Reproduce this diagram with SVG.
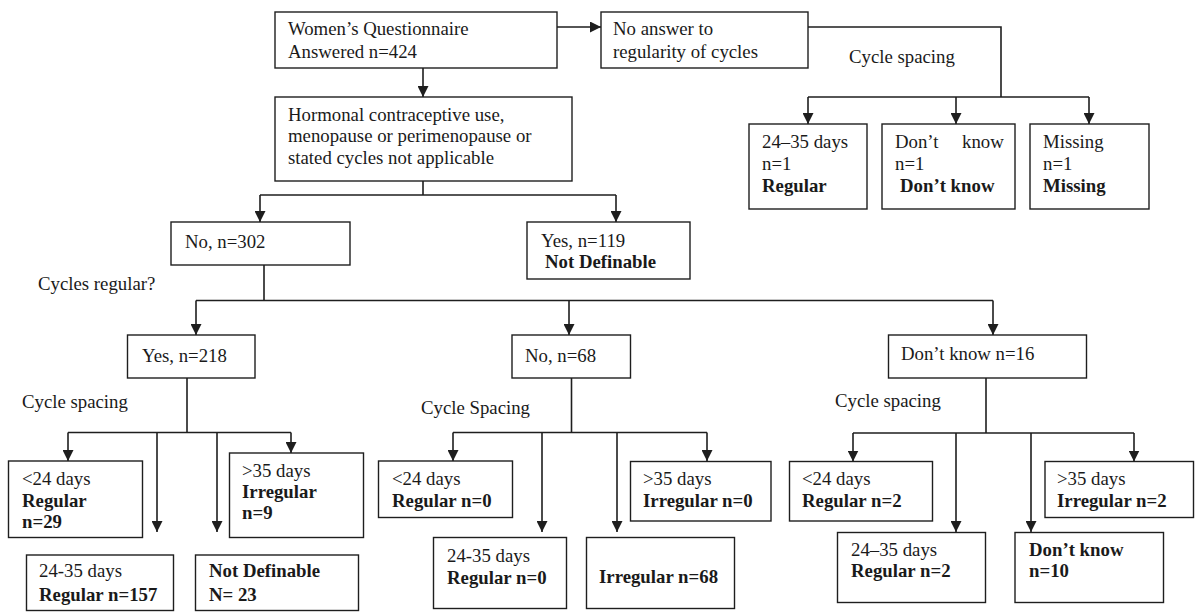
<svg xmlns="http://www.w3.org/2000/svg" width="1198" height="615" viewBox="0 0 1198 615">
<style>
  .box { fill: #ffffff; stroke: #1e1e1e; stroke-width: 1.4; }
  .ln { fill: none; stroke: #1e1e1e; stroke-width: 1.6; }
  .ar { fill: none; stroke: #1e1e1e; stroke-width: 1.6; marker-end: url(#arrow); }
  text { font-family: "Liberation Serif", "Times New Roman", serif; font-size: 18.8px; fill: #1a1a1a; }
  .b { font-weight: bold; }
</style>
<defs>
  <marker id="arrow" viewBox="0 0 11 11" refX="11" refY="5.5" markerWidth="11" markerHeight="11" markerUnits="userSpaceOnUse" orient="auto">
    <path d="M0,0 L11,5.5 L0,11 z" fill="#1e1e1e"/>
  </marker>
</defs>
<rect x="0" y="0" width="1198" height="615" fill="#ffffff"/>

<g id="connectors">
  <path class="ar" d="M557,27 H601"/>
  <path class="ar" d="M423,68 V97"/>
  <path class="ln" d="M808,27 H1001 V97"/>
  <path class="ln" d="M808,97 H1089"/>
  <path class="ar" d="M808,97 V124"/>
  <path class="ar" d="M956,97 V124"/>
  <path class="ar" d="M1089,97 V124"/>

  <path class="ln" d="M423,181 V195"/>
  <path class="ln" d="M260,195 H616"/>
  <path class="ar" d="M260,195 V222"/>
  <path class="ar" d="M616,195 V222"/>

  <path class="ln" d="M264,265 V300.5"/>
  <path class="ln" d="M196,300.5 H993"/>
  <path class="ar" d="M196,300.5 V335"/>
  <path class="ar" d="M569,300.5 V335"/>
  <path class="ar" d="M993,300.5 V335"/>

  <path class="ln" d="M187,378 V432.5"/>
  <path class="ln" d="M68,432.5 H291"/>
  <path class="ar" d="M68,432.5 V461"/>
  <path class="ar" d="M157,432.5 V532"/>
  <path class="ar" d="M217,432.5 V532"/>
  <path class="ar" d="M291,432.5 V453"/>

  <path class="ln" d="M571.5,378 V432.5"/>
  <path class="ln" d="M453,432.5 H707"/>
  <path class="ar" d="M453,432.5 V461"/>
  <path class="ar" d="M542,432.5 V532"/>
  <path class="ar" d="M617,432.5 V532"/>
  <path class="ar" d="M707,432.5 V461"/>

  <path class="ln" d="M986,378 V433"/>
  <path class="ln" d="M853,433 H1134"/>
  <path class="ar" d="M853,433 V461.5"/>
  <path class="ar" d="M956,433 V532"/>
  <path class="ar" d="M1031,433 V532"/>
  <path class="ar" d="M1134,433 V461.5"/>
</g>

<g id="labels">
  <text x="849" y="63">Cycle spacing</text>
  <text x="38" y="290">Cycles regular?</text>
  <text x="22" y="408">Cycle spacing</text>
  <text x="421" y="414">Cycle Spacing</text>
  <text x="835" y="407">Cycle spacing</text>
</g>

<g id="n-women">
  <rect class="box" x="275" y="12" width="282" height="56"/>
  <text x="288" y="35">Women’s Questionnaire</text>
  <text x="288" y="58">Answered n=424</text>
</g>
<g id="n-noanswer">
  <rect class="box" x="601" y="12" width="207" height="56"/>
  <text x="613" y="35">No answer to</text>
  <text x="613" y="58">regularity of cycles</text>
</g>
<g id="n-top-regular">
  <rect class="box" x="749" y="124" width="118" height="85"/>
  <text x="762" y="148">24–35 days</text>
  <text x="762" y="170">n=1</text>
  <text class="b" x="762" y="192">Regular</text>
</g>
<g id="n-top-dontknow">
  <rect class="box" x="882" y="124" width="133" height="85"/>
  <text x="895" y="148"><tspan x="895">Don’t</tspan><tspan x="962">know</tspan></text>
  <text x="895" y="170">n=1</text>
  <text class="b" x="900" y="192">Don’t know</text>
</g>
<g id="n-top-missing">
  <rect class="box" x="1030" y="124" width="119" height="85"/>
  <text x="1043" y="148">Missing</text>
  <text x="1043" y="170">n=1</text>
  <text class="b" x="1043" y="192">Missing</text>
</g>
<g id="n-hormonal">
  <rect class="box" x="275" y="97" width="297" height="84"/>
  <text x="288" y="121">Hormonal contraceptive use,</text>
  <text x="288" y="142">menopause or perimenopause or</text>
  <text x="288" y="164">stated cycles not applicable</text>
</g>
<g id="n-no302">
  <rect class="box" x="171" y="222" width="179" height="43"/>
  <text x="185" y="248">No, n=302</text>
</g>
<g id="n-yes119">
  <rect class="box" x="527" y="222" width="163" height="57"/>
  <text x="541" y="247">Yes, n=119</text>
  <text class="b" x="545" y="268">Not Definable</text>
</g>
<g id="n-yes218">
  <rect class="box" x="127.5" y="335" width="127.5" height="43"/>
  <text x="142" y="362">Yes, n=218</text>
</g>
<g id="n-no68">
  <rect class="box" x="512" y="335" width="118.5" height="43"/>
  <text x="525" y="362">No, n=68</text>
</g>
<g id="n-dk16">
  <rect class="box" x="888.5" y="335" width="198" height="43"/>
  <text x="901" y="360">Don’t know n=16</text>
</g>

<g id="n-l-lt24">
  <rect class="box" x="8.5" y="461" width="134" height="76.5"/>
  <text x="22" y="485">&lt;24 days</text>
  <text class="b" x="22" y="507">Regular</text>
  <text class="b" x="22" y="528">n=29</text>
</g>
<g id="n-l-gt35">
  <rect class="box" x="229.5" y="453" width="134" height="84.5"/>
  <text x="242" y="477">&gt;35 days</text>
  <text class="b" x="242" y="498">Irregular</text>
  <text class="b" x="242" y="519">n=9</text>
</g>
<g id="n-l-2435">
  <rect class="box" x="26.5" y="555" width="147" height="55.5"/>
  <text x="39" y="577">24-35 days</text>
  <text class="b" x="39" y="601">Regular n=157</text>
</g>
<g id="n-l-nd">
  <rect class="box" x="195.5" y="555" width="163" height="55.5"/>
  <text class="b" x="209" y="577">Not Definable</text>
  <text class="b" x="209" y="601">N= 23</text>
</g>

<g id="n-m-lt24">
  <rect class="box" x="378.5" y="461" width="134" height="56.5"/>
  <text x="392" y="485">&lt;24 days</text>
  <text class="b" x="392" y="507">Regular n=0</text>
</g>
<g id="n-m-gt35">
  <rect class="box" x="630.5" y="461.5" width="140.5" height="59.5"/>
  <text x="643" y="485">&gt;35 days</text>
  <text class="b" x="643" y="507">Irregular n=0</text>
</g>
<g id="n-m-2435">
  <rect class="box" x="433.5" y="537.5" width="133" height="71"/>
  <text x="447" y="562">24-35 days</text>
  <text class="b" x="447" y="584">Regular n=0</text>
</g>
<g id="n-m-irr">
  <rect class="box" x="586.5" y="537.5" width="148" height="71"/>
  <text class="b" x="599" y="583">Irregular n=68</text>
</g>

<g id="n-r-lt24">
  <rect class="box" x="789.5" y="461.5" width="143" height="59.5"/>
  <text x="802" y="485">&lt;24 days</text>
  <text class="b" x="802" y="507">Regular n=2</text>
</g>
<g id="n-r-gt35">
  <rect class="box" x="1045" y="461.5" width="148.5" height="56"/>
  <text x="1057" y="485">&gt;35 days</text>
  <text class="b" x="1057" y="507">Irregular n=2</text>
</g>
<g id="n-r-2435">
  <rect class="box" x="837.5" y="532.5" width="148" height="70"/>
  <text x="851" y="556">24–35 days</text>
  <text class="b" x="851" y="577">Regular n=2</text>
</g>
<g id="n-r-dk">
  <rect class="box" x="1015" y="532.5" width="148.5" height="70"/>
  <text class="b" x="1029" y="556">Don’t know</text>
  <text class="b" x="1029" y="577">n=10</text>
</g>
</svg>
